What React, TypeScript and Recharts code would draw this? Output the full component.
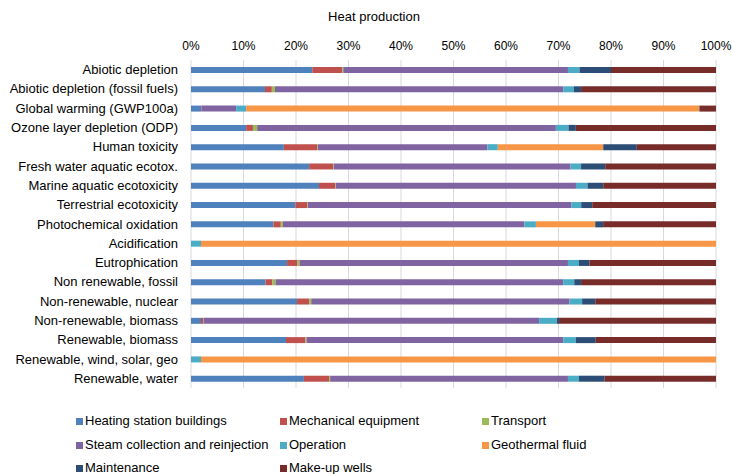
import { BarChart, Bar, XAxis, YAxis, CartesianGrid } from "recharts";

const categories = [
  "Abiotic depletion",
  "Abiotic depletion (fossil fuels)",
  "Global warming (GWP100a)",
  "Ozone layer depletion (ODP)",
  "Human toxicity",
  "Fresh water aquatic ecotox.",
  "Marine aquatic ecotoxicity",
  "Terrestrial ecotoxicity",
  "Photochemical oxidation",
  "Acidification",
  "Eutrophication",
  "Non renewable, fossil",
  "Non-renewable, nuclear",
  "Non-renewable, biomass",
  "Renewable, biomass",
  "Renewable, wind, solar, geo",
  "Renewable, water",
];

const heatingStation = [23.1, 14.1, 1.9, 10.5, 17.7, 22.5, 24.4, 19.9, 15.7, 0, 18.3, 14.2, 20.2, 1.9, 18.1, 0, 21.5];
const mechanical = [5.7, 1.3, 0.1, 1.3, 6.4, 4.6, 3.1, 2.3, 1.4, 0, 2.0, 1.3, 2.3, 0.4, 3.7, 0, 4.8];
const transport = [0.2, 0.6, 0, 0.8, 0.1, 0.1, 0.1, 0.1, 0.4, 0, 0.4, 0.6, 0.4, 0.1, 0.2, 0, 0.2];
const steam = [42.8, 54.9, 6.6, 56.9, 32.3, 45.1, 45.8, 50.2, 46.0, 0, 51.1, 54.8, 49.2, 63.9, 48.9, 0, 45.3];
const operation = [2.2, 2.0, 1.9, 2.4, 2.0, 2.0, 2.2, 1.9, 2.2, 1.9, 2.1, 2.1, 2.4, 3.4, 2.4, 1.9, 2.1];
const geothermal = [0, 0, 86.3, 0, 20.1, 0, 0, 0, 11.3, 98.1, 0, 0, 0, 0, 0, 98.1, 0];
const maintenance = [6.0, 1.4, 0.1, 1.4, 6.4, 4.6, 3.0, 2.1, 1.5, 0, 2.0, 1.3, 2.5, 0.4, 3.8, 0, 4.9];
const makeupWells = [20.0, 25.7, 3.1, 26.7, 15.1, 21.1, 21.5, 23.6, 21.5, 0, 24.1, 25.7, 23.0, 29.9, 22.9, 0, 21.2];

const xTicks = [0, 0.1, 0.2, 0.3, 0.4, 0.5, 0.6, 0.7, 0.8, 0.9, 1];

const series = [
  { key: "heating", name: "Heating station buildings", color: "#4F81BD", values: heatingStation },
  { key: "mech", name: "Mechanical equipment", color: "#C0504D", values: mechanical },
  { key: "transport", name: "Transport", color: "#9BBB59", values: transport },
  { key: "steam", name: "Steam collection and reinjection", color: "#8064A2", values: steam },
  { key: "operation", name: "Operation", color: "#4BACC6", values: operation },
  { key: "geo", name: "Geothermal fluid", color: "#F79646", values: geothermal },
  { key: "maint", name: "Maintenance", color: "#2C4D75", values: maintenance },
  { key: "makeup", name: "Make-up wells", color: "#772C2A", values: makeupWells },
];

const data = categories.map((name, i) => {
  const row: Record<string, string | number> = { name };
  series.forEach((s) => (row[s.key] = s.values[i]));
  return row;
});

const FONT = '"Liberation Sans", Arial, sans-serif';

// legend positions in a 3-column grid, like the Excel original
const legendCols = [76, 280, 482];
const legendRows = [421, 445, 468];

// plain text tick so long labels stay on one line
const CategoryTick = (props: any) => {
  const { x, y, payload } = props;
  return (
    <text x={x} y={y} textAnchor="end" dominantBaseline="central" fontSize={13} fill="#000" fontFamily={FONT}>
      {payload.value}
    </text>
  );
};

export default function App() {
  return (
    <div style={{ position: "absolute", left: 0, top: 0, width: 732, height: 474, background: "#fff", fontFamily: FONT, overflow: "hidden" }}>
      <div
        style={{
          position: "absolute", left: 274, top: 8, width: 200, textAlign: "center",
          fontSize: 13, color: "#000", lineHeight: "18px",
        }}
      >
        Heat production
      </div>
      <BarChart
        width={732}
        height={474}
        data={data}
        layout="vertical"
        stackOffset="expand"
        barSize={6}
        margin={{ top: 30, right: 16, bottom: 86, left: 0 }}
      >
        <CartesianGrid horizontal={false} stroke="#D9D9D9" />
        <XAxis
          type="number"
          orientation="top"
          domain={[0, 1]}
          ticks={xTicks}
          height={30}
          tickFormatter={(v: number) => `${Math.round(v * 100)}%`}
          axisLine={false}
          tickLine={false}
          tickMargin={4}
          tick={{ fontSize: 12, fill: "#000", fontFamily: FONT }}
        />
        <YAxis
          type="category"
          dataKey="name"
          width={191}
          interval={0}
          axisLine={false}
          tickLine={false}
          tickMargin={7}
          tick={<CategoryTick />}
        />
        {series.map((s) => (
          <Bar key={s.key} dataKey={s.key} name={s.name} stackId="a" fill={s.color} isAnimationActive={false} />
        ))}
      </BarChart>
      {series.map((s, i) => (
        <div
          key={s.key}
          style={{
            position: "absolute",
            left: legendCols[i % 3],
            top: legendRows[Math.floor(i / 3)] - 8,
            height: 16,
            lineHeight: "16px",
            display: "flex",
            alignItems: "center",
            fontSize: 13,
            color: "#000",
            whiteSpace: "nowrap",
          }}
        >
          <span style={{ width: 7, height: 7, background: s.color, marginRight: 2, display: "inline-block" }} />
          {s.name}
        </div>
      ))}
    </div>
  );
}
